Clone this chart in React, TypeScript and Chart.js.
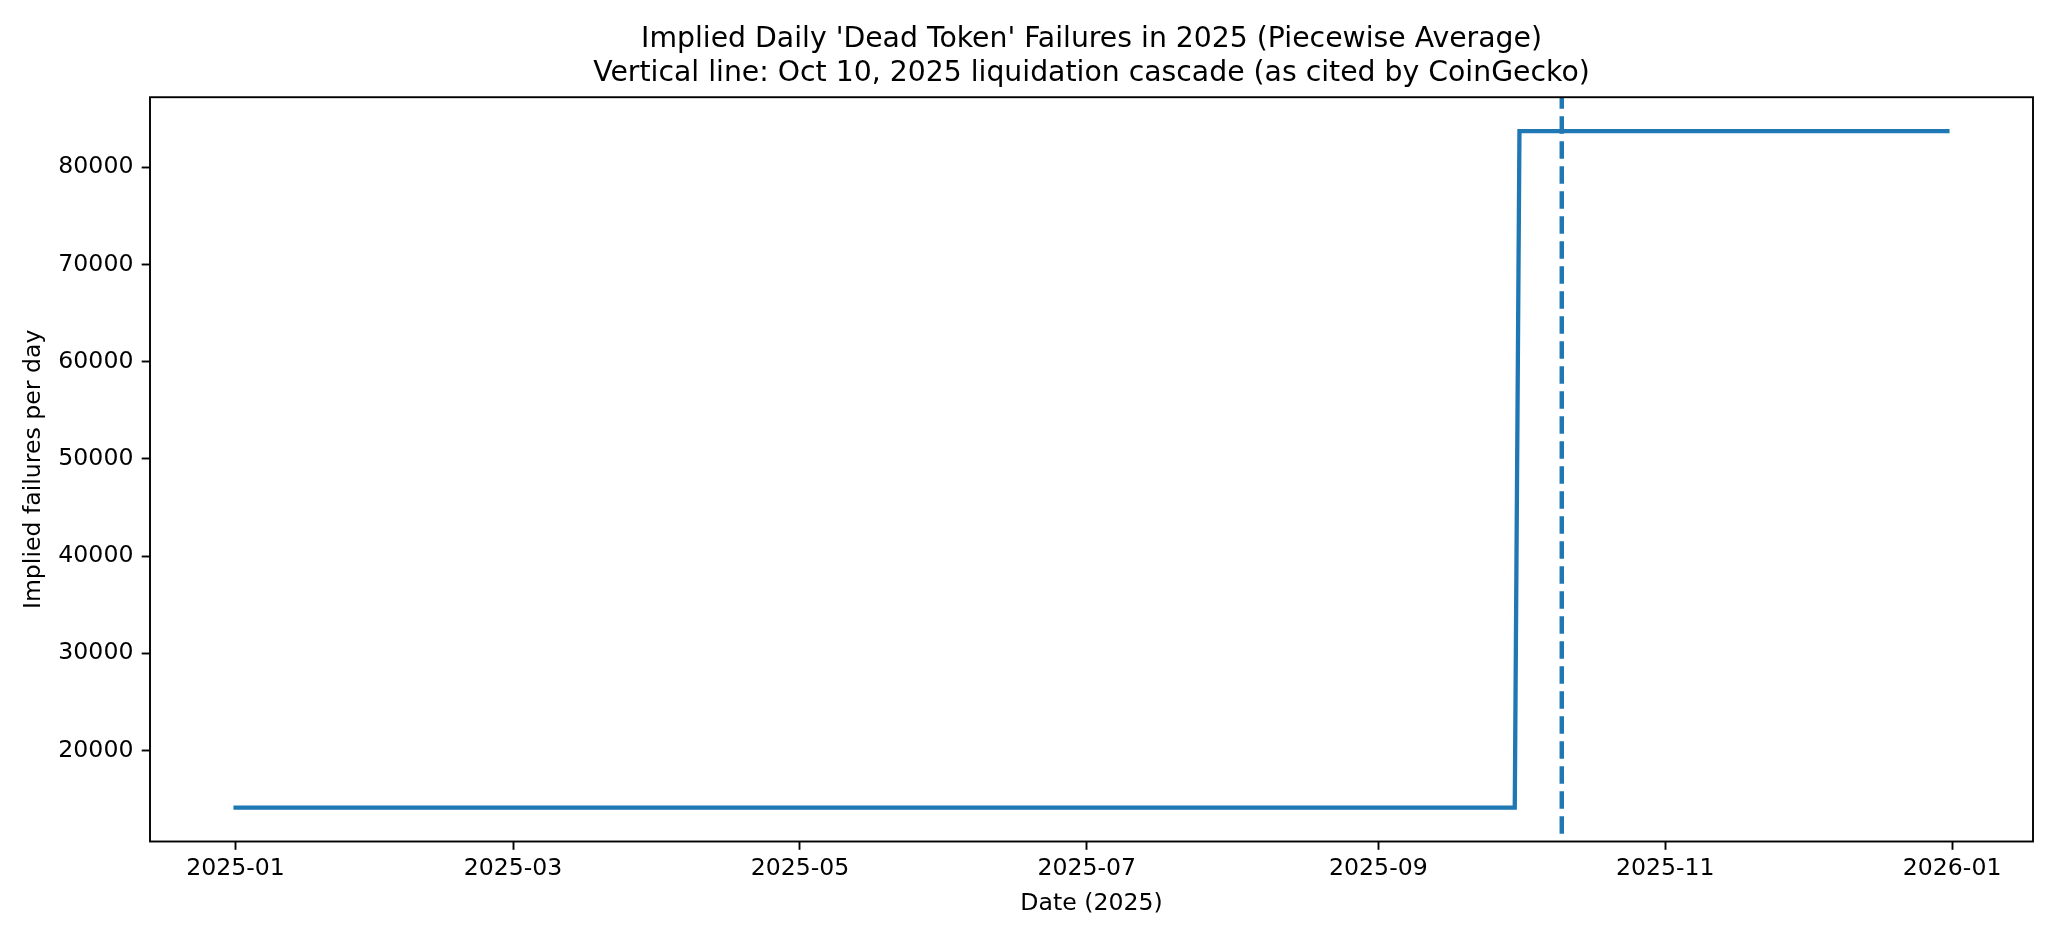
import React, { useEffect, useRef } from "react";
import { Chart, registerables } from "chart.js";

Chart.register(...registerables);

// ---- Data ----
const stepDates = ["2025-01-01", "2025-09-30", "2025-10-01", "2025-12-31"];
const impliedFailuresPerDay = [14110, 14110, 83730, 83730];
const eventDate = "2025-10-10";
const xTickDates = [
  "2025-01-01",
  "2025-03-01",
  "2025-05-01",
  "2025-07-01",
  "2025-09-01",
  "2025-11-01",
  "2026-01-01",
];
const xTickLabels = ["2025-01", "2025-03", "2025-05", "2025-07", "2025-09", "2025-11", "2026-01"];
const yTickValues = [20000, 30000, 40000, 50000, 60000, 70000, 80000];

const titleLines = [
  "Implied Daily 'Dead Token' Failures in 2025 (Piecewise Average)",
  "Vertical line: Oct 10, 2025 liquidation cascade (as cited by CoinGecko)",
];
const xAxisTitle = "Date (2025)";
const yAxisTitle = "Implied failures per day";

// ---- helpers ----
const ORIGIN = Date.UTC(2025, 0, 1);
const toDay = (s: string) => {
  const [y, m, d] = s.split("-").map(Number);
  return (Date.UTC(y, m - 1, d) - ORIGIN) / 86400000;
};

const BLUE = "#1f77b4";
const FONT = "'DejaVu Sans', 'Liberation Sans', sans-serif";
const W = 2057;
const H = 941;

export default function App() {
  const ref = useRef<HTMLCanvasElement | null>(null);

  useEffect(() => {
    if (!ref.current) return;
    const xs = stepDates.map(toDay);
    const points = xs.map((x, i) => ({ x, y: impliedFailuresPerDay[i] }));
    const xMinData = Math.min(...xs);
    const xMaxData = Math.max(...xs);
    const xPad = (xMaxData - xMinData) * 0.05;
    const yMinData = Math.min(...impliedFailuresPerDay);
    const yMaxData = Math.max(...impliedFailuresPerDay);
    const yPad = (yMaxData - yMinData) * 0.05;
    const tickDays = xTickDates.map(toDay);
    const eventDay = toDay(eventDate);

    const framePlugin = {
      id: "frameAndEvent",
      afterDatasetsDraw(chart: any) {
        const { ctx, chartArea, scales } = chart;
        const px = scales.x.getPixelForValue(eventDay);
        ctx.save();
        ctx.beginPath();
        ctx.rect(chartArea.left, chartArea.top, chartArea.right - chartArea.left, chartArea.bottom - chartArea.top);
        ctx.clip();
        ctx.strokeStyle = BLUE;
        ctx.lineWidth = 4.5;
        ctx.setLineDash([17.5, 7.5]);
        ctx.lineDashOffset = 6;
        ctx.beginPath();
        ctx.moveTo(px, chartArea.top);
        ctx.lineTo(px, chartArea.bottom);
        ctx.stroke();
        ctx.restore();
      },
      afterDraw(chart: any) {
        const { ctx, chartArea } = chart;
        ctx.save();
        ctx.strokeStyle = "#000";
        ctx.lineWidth = 1.9;
        ctx.setLineDash([]);
        ctx.strokeRect(
          chartArea.left,
          chartArea.top,
          chartArea.right - chartArea.left,
          chartArea.bottom - chartArea.top
        );
        ctx.restore();
      },
    };

    const chart = new Chart(ref.current, {
      type: "line",
      data: {
        datasets: [
          {
            label: "Implied failures per day",
            data: points,
            borderColor: BLUE,
            backgroundColor: BLUE,
            borderWidth: 4.3,
            borderCapStyle: "square",
            borderJoinStyle: "miter",
            pointRadius: 0,
            pointHoverRadius: 0,
            tension: 0,
            fill: false,
          },
        ],
      },
      options: {
        animation: false,
        responsive: false,
        devicePixelRatio: 1,
        layout: { padding: { left: 0, top: 0, right: 24, bottom: 0 } },
        plugins: {
          legend: { display: false },
          tooltip: { enabled: false },
          title: {
            display: true,
            text: titleLines,
            fullSize: false,
            color: "#000",
            font: { family: FONT, size: 28.3, weight: "normal", lineHeight: 1.2 },
            padding: { top: 22.5, bottom: 6.8 },
          },
        },
        scales: {
          x: {
            type: "linear",
            min: xMinData - xPad,
            max: xMaxData + xPad,
            border: { display: false },
            grid: {
              display: true,
              drawOnChartArea: false,
              drawTicks: true,
              tickLength: 8.3,
              tickWidth: 1.9,
              tickColor: "#000",
            },
            afterBuildTicks: (scale: any) => {
              scale.ticks = tickDays.map((v) => ({ value: v }));
            },
            afterFit: (scale: any) => {
              scale.height = 99.5;
            },
            ticks: {
              autoSkip: false,
              maxRotation: 0,
              minRotation: 0,
              padding: 5.1,
              color: "#000",
              font: { family: FONT, size: 23.6, lineHeight: 1.2 },
              callback: (_v: any, i: number) => xTickLabels[i],
            },
            title: {
              display: true,
              text: xAxisTitle,
              color: "#000",
              font: { family: FONT, size: 23.6, lineHeight: 1.2 },
              padding: { top: 0, bottom: 23.3 },
            },
          },
          y: {
            type: "linear",
            min: yMinData - yPad,
            max: yMaxData + yPad,
            border: { display: false },
            grid: {
              display: true,
              drawOnChartArea: false,
              drawTicks: true,
              tickLength: 8.3,
              tickWidth: 1.9,
              tickColor: "#000",
            },
            afterBuildTicks: (scale: any) => {
              scale.ticks = yTickValues.map((v) => ({ value: v }));
            },
            afterFit: (scale: any) => {
              scale.width = 150;
            },
            ticks: {
              autoSkip: false,
              padding: 8.3,
              color: "#000",
              font: { family: FONT, size: 23.6, lineHeight: 1.2 },
              callback: (v: any) => String(v),
            },
            title: {
              display: true,
              text: yAxisTitle,
              color: "#000",
              font: { family: FONT, size: 23.6, lineHeight: 1.2 },
              padding: { top: 19.9, bottom: 0 },
            },
          },
        },
      },
      plugins: [framePlugin],
    });

    return () => chart.destroy();
  }, []);

  return (
    <div style={{ position: "absolute", left: 0, top: 0, width: W, height: H, background: "#fff" }}>
      <canvas ref={ref} width={W} height={H} style={{ width: W, height: H, display: "block" }} />
    </div>
  );
}
